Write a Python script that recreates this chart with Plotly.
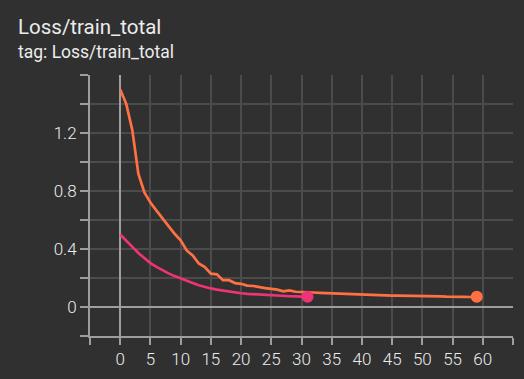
import plotly.graph_objects as go

# ---- data ----
steps_a = list(range(60))
loss_a = [1.50, 1.40, 1.22, 0.92, 0.79, 0.72, 0.665, 0.61, 0.56, 0.505,
          0.46, 0.39, 0.355, 0.30, 0.275, 0.23, 0.225, 0.185, 0.185, 0.165,
          0.16, 0.148, 0.145, 0.135, 0.13, 0.125, 0.12, 0.108, 0.115, 0.105,
          0.105, 0.10, 0.10, 0.098, 0.096, 0.094, 0.092, 0.09, 0.088, 0.086,
          0.085, 0.084, 0.082, 0.081, 0.08, 0.079, 0.078, 0.078, 0.077, 0.076,
          0.075, 0.075, 0.074, 0.073, 0.071, 0.072, 0.071, 0.07, 0.069, 0.07]
steps_b = list(range(32))
loss_b = [0.50, 0.46, 0.415, 0.372, 0.335, 0.303, 0.277, 0.252, 0.232, 0.213,
          0.196, 0.178, 0.165, 0.15, 0.138, 0.128, 0.12, 0.113, 0.106, 0.10,
          0.095, 0.091, 0.088, 0.085, 0.082, 0.079, 0.077, 0.075, 0.074, 0.073,
          0.072, 0.07]

x_ticks = list(range(-5, 70, 5))
x_labels = ["" if v in (-5, 65) else str(v) for v in x_ticks]
y_ticks = [-0.2, 0, 0.2, 0.4, 0.6, 0.8, 1.0, 1.2, 1.4, 1.6]
y_labels = ["", "0", "", "0.4", "", "0.8", "", "1.2", "", ""]

title_text = "Loss/train_total"
subtitle_text = "tag: Loss/train_total"

ORANGE = "#ff7043"
PINK = "#ee3377"
BG = "#303030"
GRID = "#4b4b4b"
AXIS = "#9e9e9e"
TEXT = "#ececec"
FONT = "Roboto"

fig = go.Figure()
fig.add_trace(go.Scatter(x=steps_a, y=loss_a, mode="lines",
                         line=dict(color=ORANGE, width=2.7), hoverinfo="skip"))
fig.add_trace(go.Scatter(x=steps_b, y=loss_b, mode="lines",
                         line=dict(color=PINK, width=2.7), hoverinfo="skip"))
fig.add_trace(go.Scatter(x=[steps_a[-1]], y=[loss_a[-1]], mode="markers",
                         marker=dict(color=ORANGE, size=12), hoverinfo="skip"))
fig.add_trace(go.Scatter(x=[steps_b[-1]], y=[loss_b[-1]], mode="markers",
                         marker=dict(color=PINK, size=12), hoverinfo="skip"))

fig.update_layout(
    width=524, height=379,
    margin=dict(l=90, r=11, t=75, b=43),
    paper_bgcolor=BG, plot_bgcolor=BG,
    showlegend=False,
    font=dict(family=FONT, color=TEXT, size=17),
    xaxis=dict(range=[-5, 65], tickmode="array", tickvals=x_ticks, ticktext=x_labels,
               showgrid=True, gridcolor=GRID, gridwidth=1.5,
               zeroline=True, zerolinecolor=AXIS, zerolinewidth=2,
               showline=True, linecolor=AXIS, linewidth=2,
               ticks="outside", ticklen=7, tickwidth=2, tickcolor=AXIS,
               tickfont=dict(family=FONT, size=17, color=TEXT, weight=300),
               fixedrange=True),
    yaxis=dict(range=[-0.2, 1.6], tickmode="array", tickvals=y_ticks, ticktext=y_labels,
               showgrid=True, gridcolor=GRID, gridwidth=1.5,
               zeroline=True, zerolinecolor=AXIS, zerolinewidth=2,
               showline=True, linecolor=AXIS, linewidth=2,
               ticks="outside", ticklen=8, tickwidth=2, tickcolor=AXIS,
               tickfont=dict(family=FONT, size=17, color=TEXT, weight=300),
               fixedrange=True),
    annotations=[
        dict(text=title_text, xref="paper", yref="paper", x=-0.175, y=1.184,
             xanchor="left", yanchor="middle", showarrow=False,
             font=dict(family=FONT, size=20.5, color=TEXT)),
        dict(text=subtitle_text, xref="paper", yref="paper", x=-0.175, y=1.090,
             xanchor="left", yanchor="middle", showarrow=False,
             font=dict(family=FONT, size=17.5, color=TEXT)),
    ],
)

fig.write_html(
    "out.html",
    config={"displayModeBar": False},
    post_script="document.body.style.margin='0';document.body.style.background='%s';" % BG,
)
